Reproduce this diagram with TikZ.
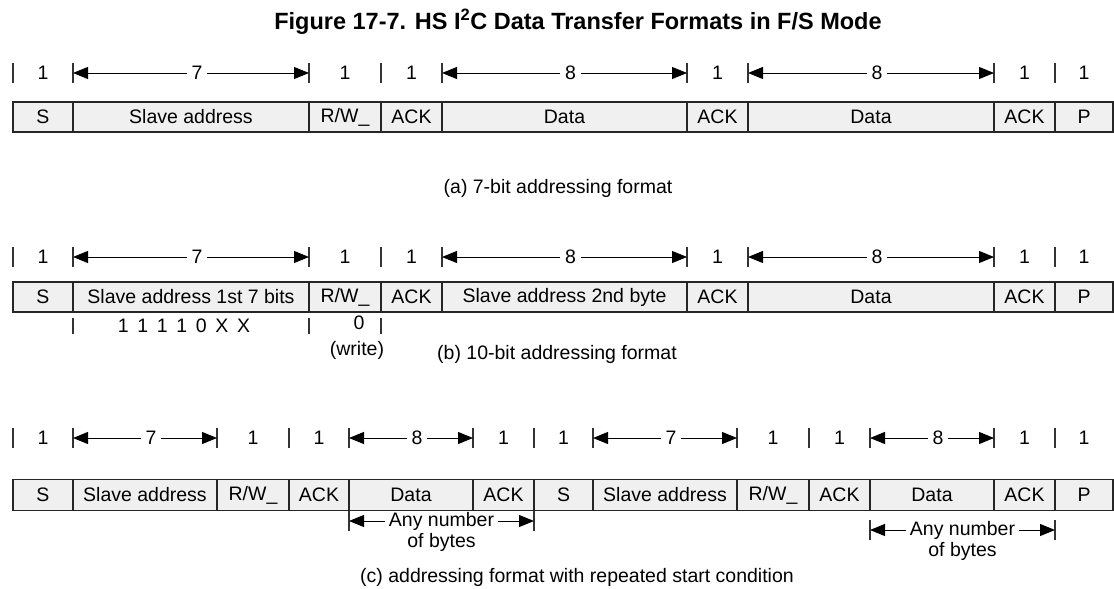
\documentclass[tikz,border=0pt]{standalone}
\usepackage{fontspec}
\setmainfont{Liberation Sans}
\usetikzlibrary{arrows.meta, positioning}
\newcommand\cellfont{\fontsize{19.5}{23}\selectfont}
\tikzset{
  cell/.style     = {rectangle, draw=black!85, line width=1.7pt, fill=black!6,
                     minimum height=30pt, inner sep=0pt, outer sep=0pt, font=\cellfont},
  tickmark/.style = {draw=black!80, line width=1.1pt},
  dimline/.style  = {{Triangle[length=15pt,width=12pt]}-{Triangle[length=15pt,width=12pt]},
                     draw=black, line width=1pt},
  dimlab/.style   = {font=\cellfont, fill=white, inner xsep=5pt, inner ysep=1pt, xshift=6pt},
  spanlab/.style  = {font=\cellfont, fill=white, inner xsep=4pt, inner ysep=1pt},
  numlab/.style   = {font=\cellfont, inner sep=1pt},
  subcap/.style   = {font=\cellfont},
}

\begin{document}
\begin{tikzpicture}[x=1pt, y=-1pt]
  \useasboundingbox (0,0) rectangle (1114,589);

  \node[font=\fontsize{23.5}{28}\selectfont\bfseries] (title) at (578,22)
       {Figure 17-7. HS I\textsuperscript{2}C Data Transfer Formats in F/S Mode};

  % ---- (a) 7-bit addressing ------------------------------------------------
  \def\ya{117}  \def\da{73}
  \foreach \a/\b/\name [count=\i] in {13/73/S, 73/309/{Slave address},
      309/381/{R/W\_}, 381/442/ACK, 442/687/Data, 687/748/ACK,
      748/994/Data, 994/1055/ACK, 1055/1113/P} {
     \node[cell, anchor=west, minimum width={(\b-\a)*1pt}] (a\i) at (\a,\ya) {\name};
     \draw[tickmark] (a\i.west |- 0,\da-10) -- (a\i.west |- 0,\da+10);
  }
  \foreach \i/\n in {2/7, 5/8, 7/8}
     \draw[dimline] (a\i.west |- 0,\da) -- (a\i.east |- 0,\da) node[dimlab, midway] (da\i) {\n};
  \foreach \i in {1,3,4,6,8,9}
     \node[numlab] (na\i) at (a\i.center |- 0,\da) {1};
  \node[subcap] (capa) at (558,188) {(a) 7-bit addressing format};

  % ---- (b) 10-bit addressing -----------------------------------------------
  \def\yb{297}  \def\db{257}
  \foreach \a/\b/\name [count=\i] in {13/73/S, 73/309/{Slave address 1st 7 bits},
      309/381/{R/W\_}, 381/442/ACK, 442/687/{Slave address 2nd byte}, 687/748/ACK,
      748/994/Data, 994/1055/ACK, 1055/1113/P} {
     \node[cell, anchor=west, minimum width={(\b-\a)*1pt}] (b\i) at (\a,\yb) {\name};
     \draw[tickmark] (b\i.west |- 0,\db-10) -- (b\i.west |- 0,\db+10);
  }
  \foreach \i/\n in {2/7, 5/8, 7/8}
     \draw[dimline] (b\i.west |- 0,\db) -- (b\i.east |- 0,\db) node[dimlab, midway] (db\i) {\n};
  \foreach \i in {1,3,4,6,8,9}
     \node[numlab] (nb\i) at (b\i.center |- 0,\db) {1};
  % bit values under the first byte
  \foreach \i in {2,3,4}
     \draw[tickmark] (b\i.west |- 0,318) -- (b\i.west |- 0,334);
  \node[numlab] (bits) at (184,326) {1~\,1~\,1~\,1~\,0~\,X~\,X};
  \node[numlab] (rw0) at (359,323) {0};
  \node[numlab] (wr) at (357,350) {(write)};
  \node[subcap] (capb) at (557,354) {(b) 10-bit addressing format};

  % ---- (c) repeated start --------------------------------------------------
  \def\yc{495}  \def\dc{438}
  \foreach \a/\b/\name [count=\i] in {13/73/S, 73/217/{Slave address},
      217/289/{R/W\_}, 289/349/ACK, 349/473/Data, 473/534/ACK, 534/593/S,
      593/737/{Slave address}, 737/809/{R/W\_}, 809/870/ACK, 870/994/Data,
      994/1055/ACK, 1055/1113/P} {
     \node[cell, anchor=west, minimum width={(\b-\a)*1pt}, minimum height=31pt] (c\i) at (\a,\yc) {\name};
     \draw[tickmark] (c\i.west |- 0,\dc-10) -- (c\i.west |- 0,\dc+10);
  }
  \foreach \i/\n in {2/7, 5/8, 8/7, 11/8}
     \draw[dimline] (c\i.west |- 0,\dc) -- (c\i.east |- 0,\dc) node[dimlab, midway] (dc\i) {\n};
  \foreach \i in {1,3,4,6,7,9,10,12,13}
     \node[numlab] (nc\i) at (c\i.center |- 0,\dc) {1};
  % any number of bytes
  \foreach \s/\e/\y/\nm in {5/6/521/l, 11/12/530/r} {
     \draw[tickmark] (c\s.west |- 0,\y-10) -- (c\s.west |- 0,\y+10);
     \draw[tickmark] (c\e.east |- 0,\y-10) -- (c\e.east |- 0,\y+10);
     \draw[dimline] (c\s.west |- 0,\y) -- (c\e.east |- 0,\y) node[spanlab, midway] (any\nm) {Any number};
     \node[numlab] (of\nm) at (any\nm |- 0,\y+21) {of bytes};
  }
  \node[subcap] (capc) at (577,577) {(c) addressing format with repeated start condition};
\end{tikzpicture}
\end{document}
